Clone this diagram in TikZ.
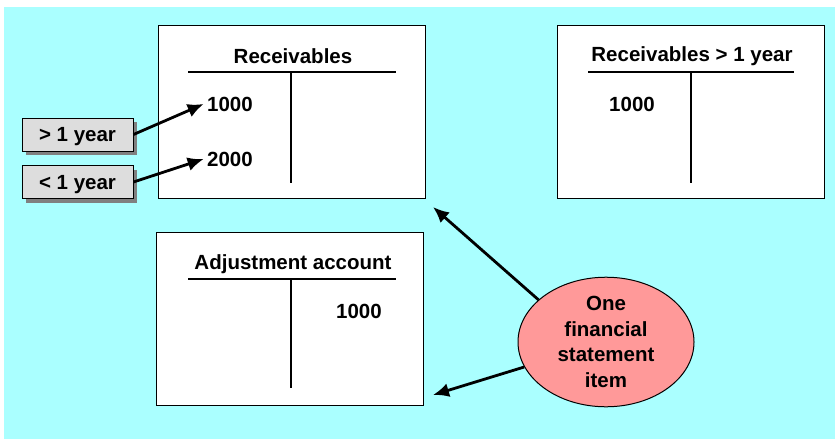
\documentclass[tikz,border=0pt]{standalone}
\usepackage{fontspec}
\setmainfont{Liberation Sans}
\usetikzlibrary{arrows.meta,shapes.geometric,shadows}
\definecolor{bgcyan}{HTML}{AAFFFF}
\definecolor{itemred}{HTML}{FF9999}
\definecolor{labelgrey}{HTML}{DDDDDD}
\definecolor{shadowgrey}{HTML}{808080}
\begin{document}
\begin{tikzpicture}[
	x = 1pt, y = -1pt,
	every node/.style = {font = \fontsize{20.5}{25.7}\selectfont\bfseries},
	account/.style = {draw, fill = white, line width = 1pt, inner sep = 0pt,
		minimum width = 267pt, minimum height = 173pt},
	period/.style = {draw, fill = labelgrey, line width = 1pt, inner sep = 0pt,
		minimum width = 111pt, minimum height = 33pt, text depth = 0pt,
		drop shadow = {shadow xshift = 4pt, shadow yshift = -4pt,
			fill = shadowgrey, opacity = 1}},
	tline/.style = {line width = 2pt},
	pointer/.style = {line width = 2.8pt, -{Latex[length = 16pt, width = 14pt]}}
	]
	\useasboundingbox (0,0) rectangle (835,439);
	\fill[bgcyan] (4,7) rectangle (835,439);
	% the three accounts
	\node[account] (recv) at (291.5,111.5) {};
	\node[account] (recvlong) at (690.5,111.5) {};
	\node[account] (adjust) at (290,319) {};
	\node (recvtitle) at (293,56) {Receivables};
	\node (longtitle) at (692,56) {Receivables > 1 year};
	\node (adjtitle) at (293,264) {Adjustment account};
	\draw[tline] (188,72) -- (396,72) (291,72) -- (291,183);
	\draw[tline] (588,72) -- (794,72) (691,72) -- (691,183);
	\draw[tline] (188,279) -- (396,279) (291,279) -- (291,388);
	\node (r1) at (230,104) {1000};
	\node (r2) at (230,159) {2000};
	\node (l1) at (632,104) {1000};
	\node (a1) at (359,311) {1000};
	% periods
	\node[period] (gt) at (77.5,134.5) {> 1 year};
	\node[period] (lt) at (77.5,182) {< 1 year};
	\draw[pointer] (gt.east) -- (r1.west);
	\draw[pointer] (lt.east) -- (r2.west);
	% statement item
	\node[shape = ellipse, draw, fill = itemred, line width = 1pt, inner sep = 0pt,
		minimum width = 176pt, minimum height = 128pt, align = center]
		(item) at (606,342) {One\\financial\\statement\\item};
	\coordinate (c1) at (433,207);
	\coordinate (c2) at (433,395);
	\draw[pointer] (item.148) -- (c1);
	\draw[pointer] (item.197) -- (c2);
\end{tikzpicture}
\end{document}
